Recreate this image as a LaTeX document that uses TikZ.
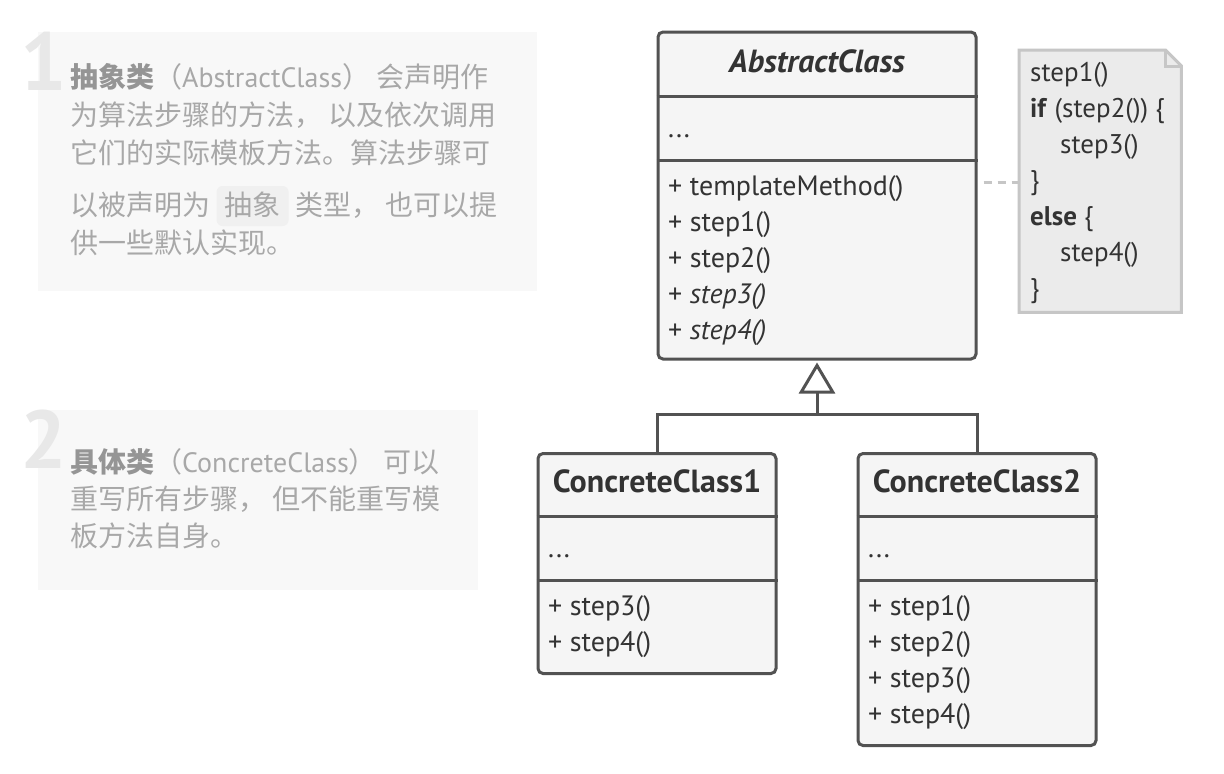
\documentclass[tikz,border=0pt]{standalone}
\usepackage{fontspec}
\setmainfont{PT Sans}
\newfontfamily\cjk{Noto Sans CJK SC}
\usetikzlibrary{arrows.meta}
\definecolor{boxline}{HTML}{525252}
\definecolor{boxfill}{HTML}{F5F5F5}
\definecolor{boxtext}{HTML}{333333}
\definecolor{notefill}{HTML}{EBEBEB}
\definecolor{noteline}{HTML}{C6C6C6}
\definecolor{panelfill}{HTML}{F8F8F8}
\definecolor{paneltext}{HTML}{A8A8A8}
\definecolor{panelbold}{HTML}{959595}
\definecolor{numcol}{HTML}{E8E8E8}
\definecolor{hlfill}{HTML}{F0F0F0}
\newcommand{\latin}[1]{{\rmfamily #1}}
\begin{document}
\begin{tikzpicture}[x=1pt,y=-1pt,
  umlbox/.style={draw=boxline, line width=3pt, fill=boxfill, rounded corners=5pt, inner sep=0pt},
  divider/.style={draw=boxline, line width=3pt},
  member/.style={anchor=west, inner sep=0pt, text=boxtext, font=\fontsize{28}{32}\selectfont, text height=19pt, text depth=6pt},
  title/.style={inner sep=0pt, text=boxtext, font=\fontsize{32}{36}\selectfont\bfseries, text height=22pt, text depth=6pt},
  notetext/.style={anchor=west, inner sep=0pt, text=boxtext, font=\fontsize{27}{31}\selectfont, text height=19pt, text depth=6pt},
  panel/.style={fill=panelfill, draw=none, inner sep=0pt},
  ptext/.style={anchor=west, inner sep=0pt, text=paneltext, font=\cjk\fontsize{28}{32}\selectfont, text height=23pt, text depth=5pt},
  bignum/.style={anchor=base west, inner sep=0pt, text=numcol, font=\fontsize{82}{82}\selectfont\bfseries},
  inh/.style={draw=boxline, line width=3pt},
  notelink/.style={draw=noteline, line width=3pt, dash pattern=on 8pt off 6pt}
]
\useasboundingbox[fill=white] (0,0) rectangle (1224,774);

% ---------- left panels ----------
\node[panel, minimum width=499pt, minimum height=259pt, anchor=north west] (p1) at (38,32) {};
\node[bignum] (n1) at (20,90) {1};
\node[ptext] (l1a) at (70,78) {\textcolor{panelbold}{\bfseries 抽象类}（\latin{AbstractClass}） 会声明作};
\node[ptext] (l1b) at (70,116) {为算法步骤的方法， 以及依次调用};
\node[ptext] (l1c) at (70,154) {它们的实际模板方法。算法步骤可};
\node[ptext] (l1d) at (70,206) {以被声明为};
\node[ptext, fill=hlfill, rounded corners=6pt, inner xsep=8pt, inner ysep=6pt, anchor=west] (l1hl) at ([xshift=6pt]l1d.east) {抽象};
\node[ptext, anchor=west] (l1e) at ([xshift=6pt]l1hl.east) {类型， 也可以提};
\node[ptext] (l1f) at (70,244) {供一些默认实现。};

\node[panel, minimum width=440pt, minimum height=180pt, anchor=north west] (p2) at (38,410) {};
\node[bignum] (n2) at (20,468) {2};
\node[ptext] (l2a) at (70,463) {\textcolor{panelbold}{\bfseries 具体类}（\latin{ConcreteClass}） 可以};
\node[ptext] (l2b) at (70,500) {重写所有步骤， 但不能重写模};
\node[ptext] (l2c) at (70,537) {板方法自身。};

% ---------- AbstractClass ----------
\node[umlbox, minimum width=318pt, minimum height=327pt] (ac) at (817,195.5) {};
\draw[divider] (ac.west |- 0,96) -- (ac.east |- 0,96);
\draw[divider] (ac.west |- 0,160) -- (ac.east |- 0,160);
\node[title, font=\fontsize{32}{36}\selectfont\bfseries\itshape] (ac-t) at (817,64) {AbstractClass};
\node[member] (ac-f) at (668,131) {...};
\node[member] (ac-m1) at (668,189) {+ templateMethod()};
\node[member] (ac-m2) at (668,225) {+ step1()};
\node[member] (ac-m3) at (668,261) {+ step2()};
\node[member] (ac-m4) at (668,297) {+ \textit{step3()}};
\node[member] (ac-m5) at (668,333) {+ \textit{step4()}};

% ---------- ConcreteClass1 ----------
\node[umlbox, minimum width=238pt, minimum height=220pt, anchor=north] (cc1) at (657,452) {};
\draw[divider] (cc1.west |- 0,516) -- (cc1.east |- 0,516);
\draw[divider] (cc1.west |- 0,580) -- (cc1.east |- 0,580);
\node[title] (cc1-t) at (657,484) {ConcreteClass1};
\node[member] (cc1-f) at (548,551) {...};
\node[member] (cc1-m1) at (548,609) {+ step3()};
\node[member] (cc1-m2) at (548,645) {+ step4()};

% ---------- ConcreteClass2 ----------
\node[umlbox, minimum width=238pt, minimum height=292pt, anchor=north] (cc2) at (977,452) {};
\draw[divider] (cc2.west |- 0,516) -- (cc2.east |- 0,516);
\draw[divider] (cc2.west |- 0,580) -- (cc2.east |- 0,580);
\node[title] (cc2-t) at (977,484) {ConcreteClass2};
\node[member] (cc2-f) at (868,551) {...};
\node[member] (cc2-m1) at (868,609) {+ step1()};
\node[member] (cc2-m2) at (868,645) {+ step2()};
\node[member] (cc2-m3) at (868,681) {+ step3()};
\node[member] (cc2-m4) at (868,717) {+ step4()};

% ---------- inheritance ----------
\coordinate (j) at (817,414);
\draw[inh] (cc1.north) |- (j);
\draw[inh] (cc2.north) |- (j);
\draw[inh, -{Triangle[open, length=31pt, width=36pt, line width=3pt, fill=white]}, shorten >=2pt] (j) -- (ac.south);

% ---------- note ----------
\node[inner sep=0pt, minimum width=162pt, minimum height=262pt, anchor=north west] (note) at (1019,50) {};
\draw[draw=noteline, line width=3pt, fill=notefill]
  (note.north west) -- ([xshift=-16pt]note.north east) -- ([yshift=-16pt]note.north east)
  -- (note.south east) -- (note.south west) -- cycle;
\draw[draw=noteline, line width=3pt] ([xshift=-16pt]note.north east) |- ([yshift=-16pt]note.north east);
\node[notetext] (nt1) at (1030,75) {step1()};
\node[notetext] (nt2) at (1030,111) {\textbf{if} (step2()) \{};
\node[notetext] (nt3) at (1060,147) {step3()};
\node[notetext] (nt4) at (1030,183) {\}};
\node[notetext] (nt5) at (1030,219) {\textbf{else} \{};
\node[notetext] (nt6) at (1060,255) {step4()};
\node[notetext] (nt7) at (1030,291) {\}};

\coordinate (dashy) at (0,182);
\draw[notelink] (ac.east |- dashy) ++(6,0) -- (note.west |- dashy);
\end{tikzpicture}
\end{document}
